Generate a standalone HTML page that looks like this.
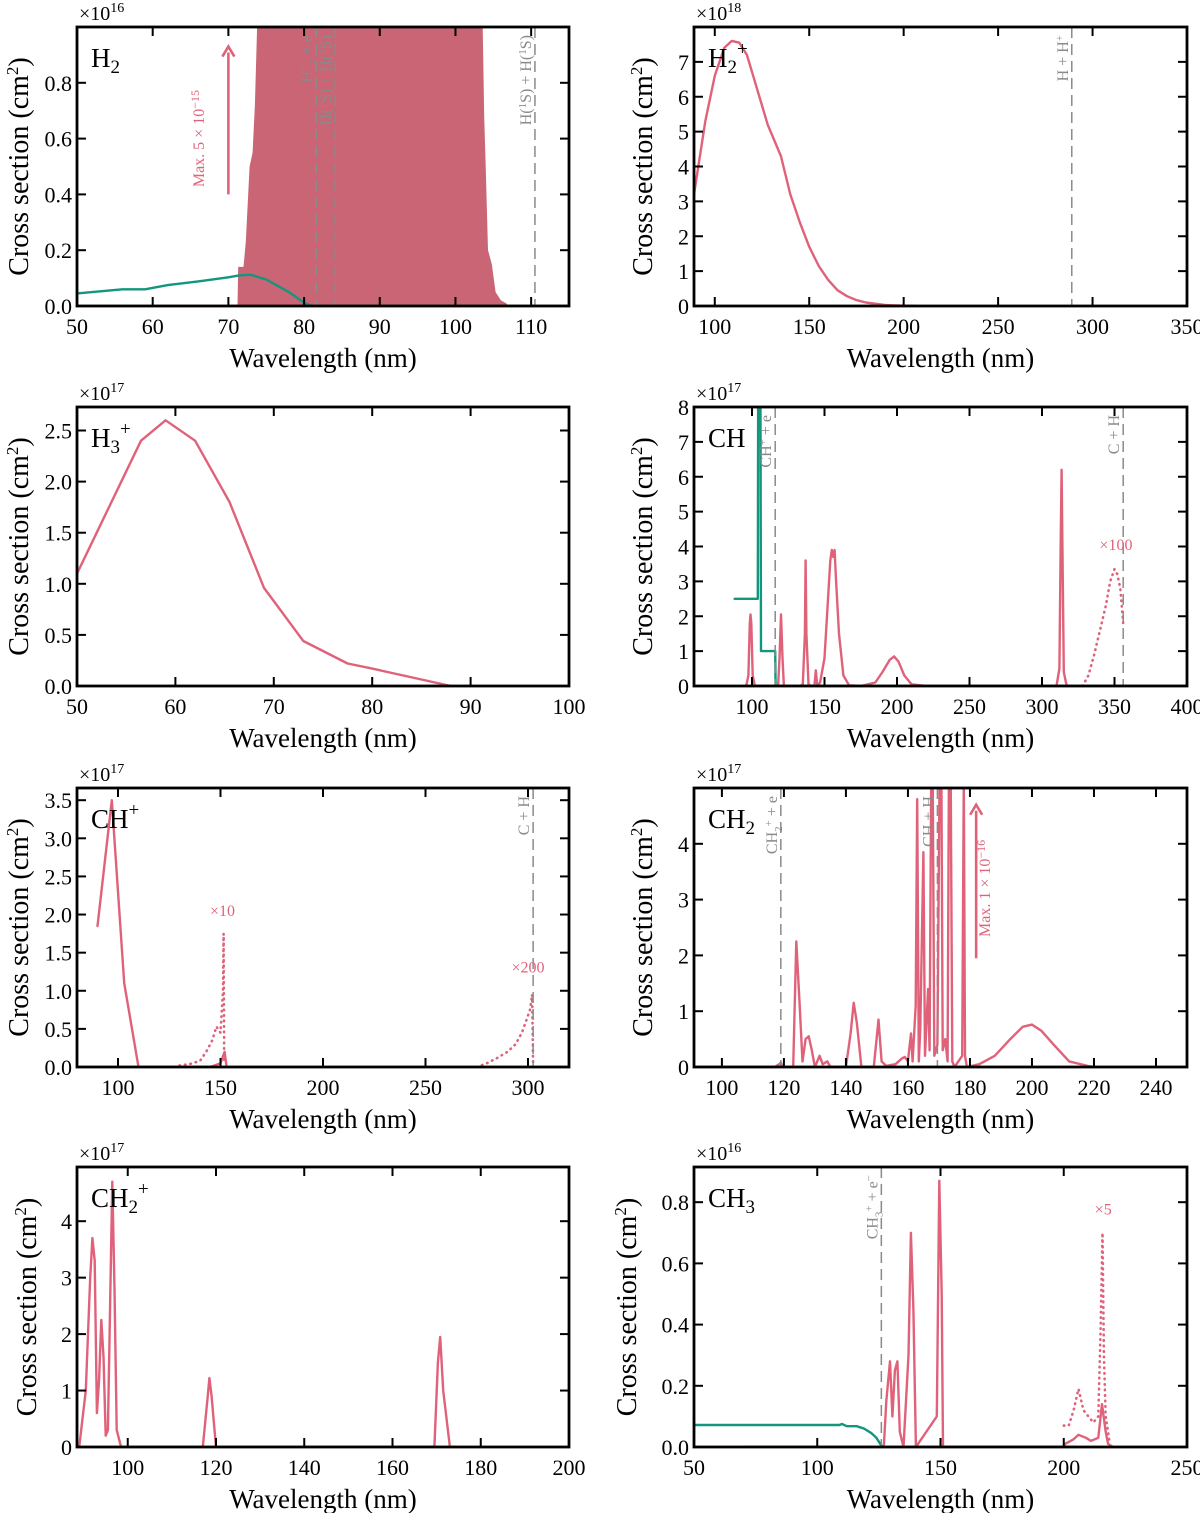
<!DOCTYPE html>
<html><head><meta charset="utf-8"><style>
html,body{margin:0;padding:0;background:#fff;}
svg{display:block;font-family:"Liberation Serif",serif;}
</style></head><body>
<svg id="fig" width="1200" height="1513" viewBox="0 0 1200 1513" xmlns="http://www.w3.org/2000/svg"></svg>
<script>
// ---------- data ----------
const h2TealX=[50,56,59,62,66,70,71.5,73,75,78,80,81,115];
const h2TealY=[0.045,0.06,0.06,0.075,0.088,0.103,0.11,0.112,0.095,0.05,0.012,0,0];
const h2FillX=[71.2,71.3,72,72.3,72.8,73.2,73.5,73.8,103.6,103.8,104,104.3,104.8,105.3,106,106.7,107];
const h2FillY=[0,0.14,0.14,0.23,0.5,0.55,0.72,1.0,1.0,0.68,0.5,0.2,0.15,0.05,0.02,0.01,0];
const h2pX=[89,95,100,105,109,113,117,122,128,135,140,145,150,155,160,165,170,175,180,190,200,207];
const h2pY=[3.2,5.3,6.6,7.4,7.6,7.55,7.2,6.3,5.2,4.3,3.2,2.4,1.7,1.15,0.75,0.45,0.28,0.17,0.1,0.03,0.01,0];
const h3pX=[50,52,56.5,59,62,65.5,69,73,77.5,80,88];
const h3pY=[1.1,1.5,2.4,2.6,2.4,1.8,0.96,0.44,0.22,0.17,0];
const chTealX=[88,104,104.3,105.8,106.2,116,116.3,400];
const chTealY=[2.5,2.5,9,9,1.0,1.0,0,0];
const chRedX=[96,97.5,98.5,99,99.5,100.5,102,118,119,120,121,122,133,135,136.5,137,137.5,139,141,143,144,145,147,150,152,154,155,156,157,158,160,163,167,175,185,190,195,198,201,205,210,220,310,312,313,313.5,314,315,317,360];
const chRedY=[0,0.3,1.8,2.05,1.8,0.3,0,0,0.8,2.05,0.8,0,0,0.05,1.5,3.6,1.5,0.05,0,0,0.45,0,0.1,0.8,2.2,3.6,3.9,3.7,3.9,3.0,1.5,0.3,0.02,0,0.1,0.4,0.75,0.85,0.7,0.3,0.05,0,0,0.5,4.4,6.2,4.3,0.4,0,0];
const chDotX=[328,332,336,340,344,347,350,352,354,356];
const chDotY=[0,0.3,0.9,1.6,2.3,3.0,3.35,3.2,2.8,1.8];
const chpRedX=[90,97,103,110,145,150,152,153];
const chpRedY=[1.85,3.5,1.1,0,0,0.05,0.2,0];
const chpDot1X=[130,135,140,143,146,148,150,151.2,151.5,151.8];
const chpDot1Y=[0.02,0.04,0.08,0.2,0.35,0.53,0.45,1.0,1.75,0.05];
const chpDot2X=[275,280,285,290,294,297,299,301,302,302.5];
const chpDot2Y=[0,0.05,0.12,0.2,0.3,0.45,0.6,0.75,0.95,0.05];
const ch2X=[91,117,118.5,119,119.5,123,124,125,126,127,128,129,130,131.5,132.5,134,135,140,141.5,142.5,143.5,145,149,150.5,151.5,153,156,158,159,160,161,161.5,162.5,163,163.5,164,165,165.5,166.5,167,167.5,168,168.5,169.5,170.2,170.8,171.2,172,172.8,173.2,173.8,174.3,175,177.5,178,178.4,179,183,188,193,197,200,203,207,212,218,220];
const ch2Y=[0,0,0.05,0.08,0,0,2.25,1.2,0.1,0.5,0.55,0.3,0,0.2,0.05,0.1,0,0,0.6,1.15,0.8,0,0,0.85,0.1,0.02,0.05,0.15,0.18,0.1,0.6,0.1,1.1,4.8,0.1,0.7,3.85,0.2,1.4,0.3,5.2,5.2,0.2,0.4,5.2,5.2,0.3,0.5,0.1,5.2,5.2,0.1,0,0.2,5.2,0.2,0,0.05,0.2,0.5,0.72,0.76,0.65,0.4,0.1,0.02,0];
const ch2pX=[88.5,89,90.5,91.5,92,92.5,93,93.5,94,94.5,95,95.5,96,96.5,97,97.5,98.5,117,118,118.5,119,120,169.5,170.3,170.8,171.5,173,174];
const ch2pY=[0,0,1.0,3.0,3.7,3.3,0.6,1.2,2.25,1.6,0.2,0.3,2.5,4.7,2.8,0.3,0,0,0.8,1.22,0.9,0,0,1.5,1.95,1.0,0,0];
const ch3TealX=[50,105,109,110,112,116,119,122,124,126,127,205];
const ch3TealY=[0.072,0.072,0.072,0.075,0.068,0.068,0.06,0.045,0.03,0.005,0,0];
const ch3RedX=[70,127,128,129.5,130.5,131.5,132.5,133.5,135,137,138,139,140,148.5,149.5,150.5,151,200,200.5,204,206,209,211,214,215.5,217,218,220];
const ch3RedY=[0,0,0.15,0.28,0.1,0.25,0.28,0.05,0,0.3,0.7,0.45,0,0.1,0.87,0.5,0,0,0.01,0.025,0.04,0.03,0.02,0.03,0.14,0.05,0.01,0];
const ch3DotX=[200,202,204,206,208,210,212,214,215,215.7,216.3,217,218.5];
const ch3DotY=[0.07,0.07,0.12,0.19,0.12,0.1,0.08,0.1,0.4,0.7,0.3,0.1,0.02];

const RED="#e0627a", TEAL="#13967e", FILL="#c96574", GRAY="#8a8a8a";
const svg=document.getElementById('fig');
const NS="http://www.w3.org/2000/svg";
function el(tag,attrs,parent){const e=document.createElementNS(NS,tag);for(const k in attrs)e.setAttribute(k,attrs[k]);(parent||svg).appendChild(e);return e;}

function panel(c){
  const g=el('g',{});
  
  
  const sx=v=>c.x0+(v-c.xmin)/(c.xmax-c.xmin)*(c.x1-c.x0);
  const sy=v=>c.y1-(v-c.ymin)/(c.ymax-c.ymin)*(c.y1-c.y0);
  const cid='clip-'+c.name;
  const cp=el('clipPath',{id:cid},g);
  el('rect',{x:c.x0,y:c.y0,width:c.x1-c.x0,height:c.y1-c.y0},cp);
  const plot=el('g',{'clip-path':'url(#'+cid+')'},g);
  
  
  const pts=(X,Y)=>X.map((x,i)=>sx(x).toFixed(1)+','+sy(Y[i]).toFixed(1)).join(' ');
  (c.fills||[]).forEach(f=>{
    const p=el('polygon',{points:pts(f.x,f.y),fill:FILL,stroke:'none'},plot);
    
    
  });
  (c.series||[]).forEach(s=>{
    const a={points:pts(s.x,s.y),fill:'none',stroke:s.c,'stroke-width':s.dot?2.6:2.4,'stroke-linejoin':'round','stroke-linecap':'round'};
    if(s.dot) a['stroke-dasharray']='0.5 5';
    const p=el('polyline',a,plot);
    
    
  });
  (c.vlines||[]).forEach(v=>{
    const l=el('line',{x1:sx(v.x),x2:sx(v.x),y1:c.y0,y2:c.y1,stroke:GRAY,'stroke-width':1.5,'stroke-dasharray':'11 6'},plot);
    
    
    const t=el('text',{x:0,y:0,'font-size':16,fill:GRAY,'text-anchor':'end',transform:`translate(${sx(v.x)-4},${c.y0+8}) rotate(-90)`},g);
    
    
    t.innerHTML=v.t;
  });
  const fr=el('rect',{x:c.x0,y:c.y0,width:c.x1-c.x0,height:c.y1-c.y0,fill:'none',stroke:'#000','stroke-width':2.8},g);
  
  
  c.xt.forEach(v=>{
    const X=sx(v);
    el('line',{x1:X,x2:X,y1:c.y1,y2:c.y1-9,stroke:'#000','stroke-width':2},g);
    el('line',{x1:X,x2:X,y1:c.y0,y2:c.y0+9,stroke:'#000','stroke-width':2},g);
    const t=el('text',{x:X,y:c.y1+28,'font-size':22,'text-anchor':'middle'},g);
    
    
    t.textContent=v;
  });
  c.yt.forEach(v=>{
    const Y=sy(v);
    el('line',{x1:c.x0,x2:c.x0+9,y1:Y,y2:Y,stroke:'#000','stroke-width':2},g);
    el('line',{x1:c.x1,x2:c.x1-9,y1:Y,y2:Y,stroke:'#000','stroke-width':2},g);
    const t=el('text',{x:c.x0-5,y:Y+8,'font-size':22,'text-anchor':'end'},g);
    
    
    t.textContent=v.toFixed(c.yd);
  });
  const ex=el('text',{x:c.x0+2,y:c.y0-7,'font-size':20},g);
  
  
  ex.innerHTML='×10<tspan dy="-8" font-size="14">'+c.exp+'</tspan>';
  const xl=el('text',{x:(c.x0+c.x1)/2,y:c.y1+61,'font-size':27,'text-anchor':'middle'},g);
  
  
  xl.textContent='Wavelength (nm)';
  const yl=el('text',{x:0,y:0,'font-size':28,'text-anchor':'middle',transform:`translate(${c.ylx},${(c.y0+c.y1)/2}) rotate(-90)`},g);
  
  
  yl.innerHTML='Cross section (cm<tspan dy="-10" font-size="17">2</tspan><tspan dy="10">)</tspan>';
  const ml=el('text',{x:c.x0+14,y:c.y0+40,'font-size':27},g);
  
  
  ml.innerHTML=c.label;
  (c.notes||[]).forEach(n=>{
    const t=el('text',{x:sx(n.x),y:sy(n.y),'font-size':16,fill:RED,'text-anchor':'middle'},g);
    
    
    t.textContent=n.t;
  });
  if(c.arrow){
    const A=c.arrow, X=sx(A.x), Yb=sy(A.y0), Yt=sy(A.y1);
    const l=el('line',{x1:X,x2:X,y1:Yb,y2:Yt+6,stroke:RED,'stroke-width':2.6},g);
    
    
    el('polyline',{points:`${X-6},${Yt+10} ${X},${Yt} ${X+6},${Yt+10}`,fill:'none',stroke:RED,'stroke-width':2.6},g);
    const t=el('text',{x:0,y:0,'font-size':16,fill:RED,'text-anchor':'middle',transform:`translate(${sx(A.tx)},${sy(A.ty)}) rotate(-90)`},g);
    
    
    t.innerHTML=A.t;
  }
}
const sub=s=>'<tspan dy="6" font-size="19">'+s+'</tspan>';
const sup=(s,d)=>'<tspan dy="'+d+'" font-size="19">'+s+'</tspan>';
const L={x0:77,x1:569}, R={x0:694,x1:1187};
const rows=[[27,306],[407,686],[788,1067],[1167,1447]];
const rng=(a,b,s)=>{const r=[];for(let v=a;v<=b+1e-9;v+=s)r.push(+v.toFixed(3));return r;};

panel({name:'h2',...L,y0:rows[0][0],y1:rows[0][1],xmin:50,xmax:115,ymin:0,ymax:1.0,xt:rng(50,110,10),yt:rng(0,0.8,0.2),yd:1,exp:16,ylx:28,
  label:'H'+sub('2'),
  fills:[{x:h2FillX,y:h2FillY,n:'h2-dissociation-fill'}],
  series:[{x:[50,115],y:[0,0],c:RED,n:'h2-baseline'},{x:h2TealX,y:h2TealY,c:TEAL,n:'h2-ionisation-line'}],
  vlines:[{x:81.6,t:'H<tspan dy="-5" font-size="11">+</tspan><tspan dy="5">₂ + e</tspan>'},{x:84.1,t:'H(<tspan dy="-5" font-size="11">1</tspan><tspan dy="5">S) + H(</tspan><tspan dy="-5" font-size="11">2</tspan><tspan dy="5">S)</tspan>'},{x:110.5,t:'H(<tspan dy="-5" font-size="11">1</tspan><tspan dy="5">S) + H(</tspan><tspan dy="-5" font-size="11">1</tspan><tspan dy="5">S)</tspan>'}],
  arrow:{x:70,y0:0.4,y1:0.93,tx:66.8,ty:0.6,t:'Max. 5 × 10<tspan dy="-5" font-size="12">−15</tspan>'}});

panel({name:'h2-plus',...R,y0:rows[0][0],y1:rows[0][1],xmin:89,xmax:350,ymin:0,ymax:8,xt:rng(100,350,50),yt:rng(0,7,1),yd:0,exp:18,ylx:652,
  label:'H'+sub('2')+sup('+',-18),
  series:[{x:h2pX,y:h2pY,c:RED,n:'h2-plus-line'}],
  vlines:[{x:289,t:'H + H<tspan dy="-5" font-size="11">+</tspan>'}]});

panel({name:'h3-plus',...L,y0:rows[1][0],y1:rows[1][1],xmin:50,xmax:100,ymin:0,ymax:2.73,xt:rng(50,100,10),yt:rng(0,2.5,0.5),yd:1,exp:17,ylx:28,
  label:'H'+sub('3')+sup('+',-18),
  series:[{x:h3pX,y:h3pY,c:RED,n:'h3-plus-line'}]});

panel({name:'ch',...R,y0:rows[1][0],y1:rows[1][1],xmin:60,xmax:400,ymin:0,ymax:8,xt:rng(100,400,50),yt:rng(0,8,1),yd:0,exp:17,ylx:652,
  label:'CH',
  series:[{x:chRedX,y:chRedY,c:RED,n:'ch-dissociation-line'},{x:chDotX,y:chDotY,c:RED,dot:1,n:'ch-x100-dotted'},{x:chTealX,y:chTealY,c:TEAL,n:'ch-ionisation-line'}],
  vlines:[{x:116,t:'CH<tspan dy="-5" font-size="11">+</tspan><tspan dy="5"> + e</tspan>'},{x:356,t:'C + H'}],
  notes:[{x:351,y:3.9,t:'×100'}]});

panel({name:'ch-plus',...L,y0:rows[2][0],y1:rows[2][1],xmin:80,xmax:320,ymin:0,ymax:3.66,xt:rng(100,300,50),yt:rng(0,3.5,0.5),yd:1,exp:17,ylx:28,
  label:'CH'+sup('+',-12),
  series:[{x:chpRedX,y:chpRedY,c:RED,n:'ch-plus-line'},{x:chpDot1X,y:chpDot1Y,c:RED,dot:1,n:'ch-plus-x10-dotted'},{x:chpDot2X,y:chpDot2Y,c:RED,dot:1,n:'ch-plus-x200-dotted'}],
  vlines:[{x:302.5,t:'C + H'}],
  notes:[{x:151,y:1.98,t:'×10'},{x:300,y:1.24,t:'×200'}]});

panel({name:'ch2',...R,y0:rows[2][0],y1:rows[2][1],xmin:91,xmax:250,ymin:0,ymax:5,xt:rng(100,240,20),yt:rng(0,4,1),yd:0,exp:17,ylx:652,
  label:'CH'+sub('2'),
  series:[{x:ch2X,y:ch2Y,c:RED,n:'ch2-line'}],
  vlines:[{x:119,t:'CH<tspan dy="5" font-size="11">2</tspan><tspan dy="-10" font-size="11">+</tspan><tspan dy="5"> + e</tspan>'},{x:169.5,t:'CH + H'}],
  arrow:{x:182,y0:1.95,y1:4.7,tx:186.5,ty:3.2,t:'Max. 1 × 10<tspan dy="-5" font-size="12">−16</tspan>'}});

panel({name:'ch2-plus',...L,y0:rows[3][0],y1:rows[3][1],xmin:88.5,xmax:200,ymin:0,ymax:4.96,xt:rng(100,200,20),yt:rng(0,4,1),yd:0,exp:17,ylx:36,
  label:'CH'+sub('2')+sup('+',-18),
  series:[{x:ch2pX,y:ch2pY,c:RED,n:'ch2-plus-line'}]});

panel({name:'ch3',...R,y0:rows[3][0],y1:rows[3][1],xmin:50,xmax:250,ymin:0,ymax:0.915,xt:rng(50,250,50),yt:rng(0,0.8,0.2),yd:1,exp:16,ylx:636,
  label:'CH'+sub('3'),
  series:[{x:ch3TealX,y:ch3TealY,c:TEAL,n:'ch3-ionisation-line'},{x:ch3RedX,y:ch3RedY,c:RED,n:'ch3-dissociation-line'},{x:ch3DotX,y:ch3DotY,c:RED,dot:1,n:'ch3-x5-dotted'}],
  vlines:[{x:126,t:'CH<tspan dy="5" font-size="11">3</tspan><tspan dy="-10" font-size="11">+</tspan><tspan dy="5"> + e</tspan><tspan dy="-5" font-size="11">−</tspan>'}],
  notes:[{x:216,y:0.76,t:'×5'}]});
</script>
</body></html>
